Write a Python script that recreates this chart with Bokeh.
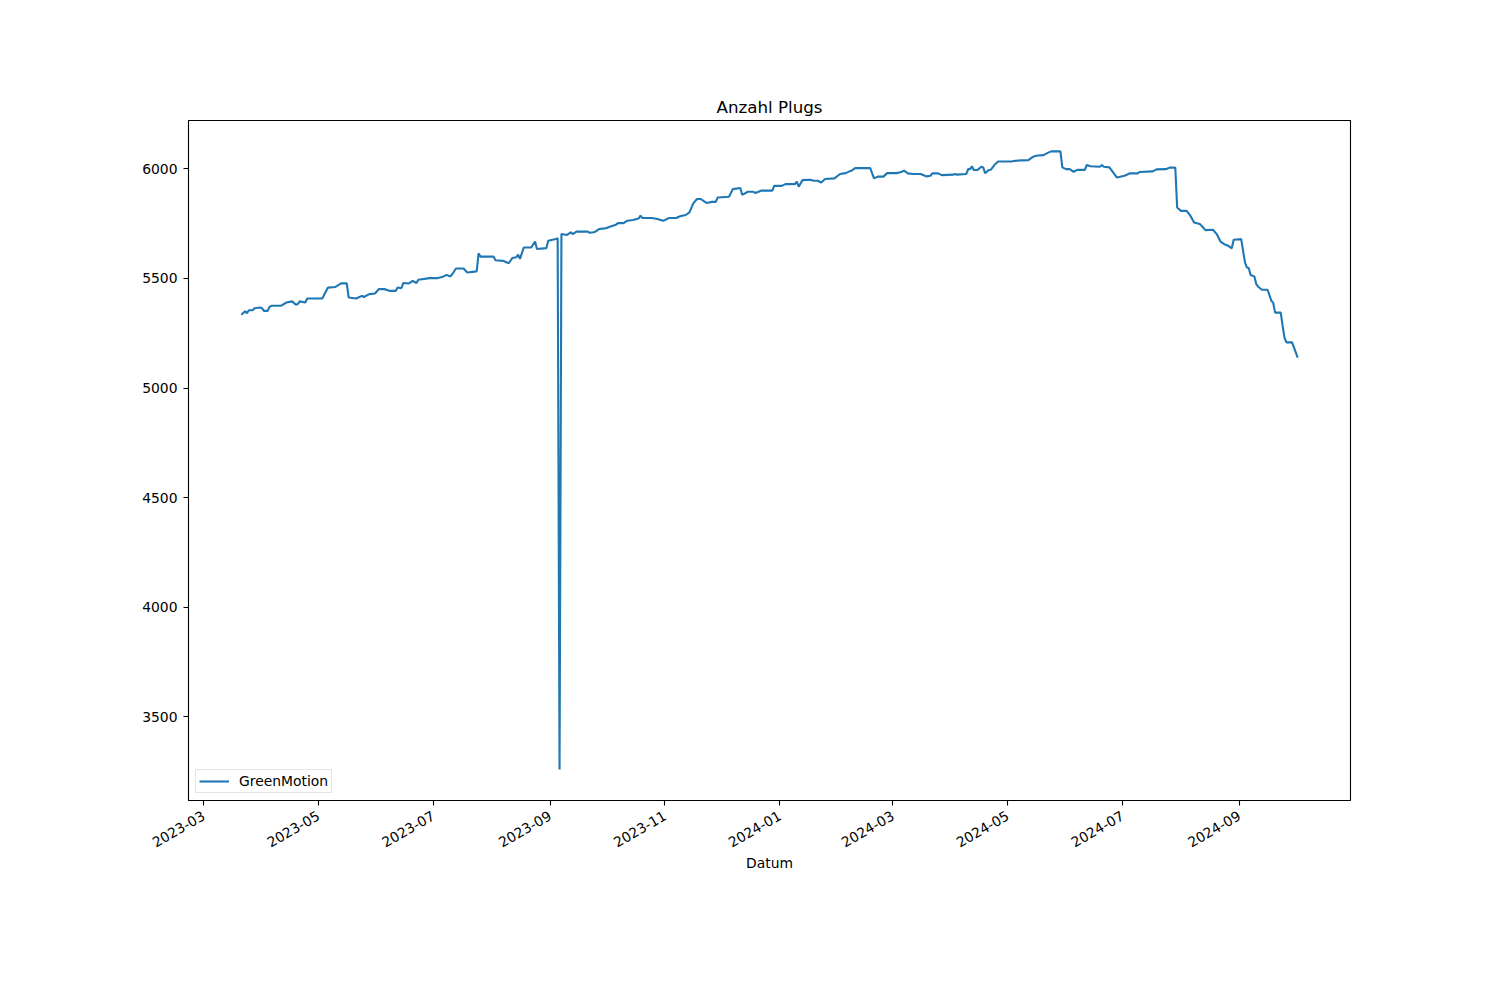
import math
import pandas as pd
from bokeh.plotting import figure
from bokeh.models import Range1d, FixedTicker, Legend, LegendItem, ColumnDataSource
from bokeh.embed import file_html
from bokeh.resources import INLINE

# ---- data ----
dates = [
    "2023-03-21", "2023-03-22", "2023-03-23", "2023-03-24", "2023-03-25", "2023-03-27", "2023-03-28",
    "2023-03-31", "2023-04-01", "2023-04-02", "2023-04-04", "2023-04-05", "2023-04-06", "2023-04-11",
    "2023-04-14", "2023-04-17", "2023-04-19", "2023-04-20", "2023-04-21", "2023-04-24", "2023-04-25",
    "2023-05-03", "2023-05-06", "2023-05-10", "2023-05-13", "2023-05-16", "2023-05-17", "2023-05-21",
    "2023-05-24", "2023-05-25", "2023-05-28", "2023-05-31", "2023-06-02", "2023-06-05", "2023-06-08",
    "2023-06-11", "2023-06-12", "2023-06-14", "2023-06-15", "2023-06-18", "2023-06-20", "2023-06-22",
    "2023-06-23", "2023-06-29", "2023-07-03", "2023-07-06", "2023-07-08", "2023-07-10", "2023-07-11",
    "2023-07-13", "2023-07-17", "2023-07-19", "2023-07-24", "2023-07-25", "2023-07-26", "2023-08-02",
    "2023-08-03", "2023-08-07", "2023-08-10", "2023-08-12", "2023-08-14", "2023-08-15", "2023-08-16",
    "2023-08-18", "2023-08-22", "2023-08-24", "2023-08-25", "2023-08-30", "2023-08-31", "2023-09-04",
    "2023-09-05", "2023-09-06", "2023-09-07", "2023-09-10", "2023-09-12", "2023-09-13", "2023-09-15",
    "2023-09-21", "2023-09-22", "2023-09-24", "2023-09-25", "2023-09-27", "2023-09-30", "2023-10-01",
    "2023-10-03", "2023-10-06", "2023-10-07", "2023-10-10", "2023-10-12", "2023-10-15", "2023-10-18",
    "2023-10-19", "2023-10-20", "2023-10-25", "2023-10-28", "2023-10-31", "2023-11-01", "2023-11-03",
    "2023-11-07", "2023-11-09", "2023-11-12", "2023-11-14", "2023-11-16", "2023-11-18", "2023-11-20",
    "2023-11-23", "2023-11-26", "2023-11-28", "2023-11-29", "2023-12-05", "2023-12-07", "2023-12-11",
    "2023-12-12", "2023-12-15", "2023-12-18", "2023-12-19", "2023-12-22", "2023-12-28", "2023-12-29",
    "2024-01-02", "2024-01-04", "2024-01-09", "2024-01-10", "2024-01-11", "2024-01-13", "2024-01-17",
    "2024-01-19", "2024-01-21", "2024-01-23", "2024-01-25", "2024-01-30", "2024-02-02", "2024-02-05",
    "2024-02-07", "2024-02-08", "2024-02-10", "2024-02-18", "2024-02-20", "2024-02-22", "2024-02-25",
    "2024-02-27", "2024-03-03", "2024-03-05", "2024-03-07", "2024-03-09", "2024-03-12", "2024-03-16",
    "2024-03-17", "2024-03-19", "2024-03-21", "2024-03-22", "2024-03-25", "2024-03-27", "2024-04-02",
    "2024-04-03", "2024-04-04", "2024-04-09", "2024-04-10", "2024-04-11", "2024-04-12", "2024-04-13",
    "2024-04-15", "2024-04-17", "2024-04-18", "2024-04-19", "2024-04-21", "2024-04-22", "2024-04-24",
    "2024-04-26", "2024-05-03", "2024-05-05", "2024-05-08", "2024-05-12", "2024-05-14", "2024-05-16",
    "2024-05-20", "2024-05-22", "2024-05-24", "2024-05-29", "2024-05-30", "2024-06-01", "2024-06-03",
    "2024-06-05", "2024-06-07", "2024-06-11", "2024-06-12", "2024-06-14", "2024-06-19", "2024-06-20",
    "2024-06-21", "2024-06-24", "2024-06-26", "2024-06-28", "2024-07-02", "2024-07-05", "2024-07-09",
    "2024-07-10", "2024-07-17", "2024-07-19", "2024-07-24", "2024-07-26", "2024-07-29", "2024-07-30",
    "2024-08-01", "2024-08-04", "2024-08-06", "2024-08-08", "2024-08-11", "2024-08-12", "2024-08-14",
    "2024-08-18", "2024-08-20", "2024-08-22", "2024-08-24", "2024-08-26", "2024-08-28", "2024-08-29",
    "2024-09-02", "2024-09-04", "2024-09-05", "2024-09-06", "2024-09-07", "2024-09-09", "2024-09-10",
    "2024-09-11", "2024-09-13", "2024-09-16", "2024-09-18", "2024-09-19", "2024-09-20", "2024-09-23",
    "2024-09-24", "2024-09-25", "2024-09-26", "2024-09-29", "2024-09-30", "2024-10-02",
]
plugs = [
    5334, 5342, 5350, 5341, 5355, 5355, 5364,
    5367, 5364, 5352, 5352, 5370, 5375, 5375,
    5390, 5395, 5380, 5383, 5395, 5390, 5408,
    5408, 5458, 5461, 5477, 5477, 5413, 5408,
    5420, 5415, 5428, 5431, 5451, 5451, 5443,
    5443, 5458, 5455, 5479, 5477, 5489, 5479,
    5494, 5501, 5501, 5507, 5516, 5509, 5519,
    5545, 5545, 5527, 5532, 5614, 5599, 5599,
    5583, 5580, 5569, 5593, 5596, 5608, 5589,
    5641, 5641, 5668, 5634, 5638, 5672, 5680,
    5683, 3260, 5702, 5698, 5710, 5702, 5713,
    5713, 5708, 5710, 5713, 5725, 5728, 5730,
    5737, 5745, 5752, 5752, 5763, 5766, 5773,
    5786, 5775, 5775, 5771, 5763, 5766, 5775,
    5775, 5783, 5789, 5801, 5842, 5862, 5862,
    5844, 5849, 5849, 5869, 5872, 5907, 5912,
    5881, 5895, 5895, 5889, 5900, 5900, 5922,
    5922, 5930, 5930, 5941, 5918, 5948, 5950,
    5945, 5945, 5937, 5953, 5956, 5976, 5980,
    5988, 5991, 6003, 6003, 5956, 5964, 5964,
    5980, 5980, 5984, 5991, 5979, 5976, 5976,
    5971, 5965, 5968, 5979, 5979, 5971, 5973,
    5976, 5973, 5976, 5998, 5998, 6011, 5994,
    5995, 6009, 6006, 5980, 5994, 5995, 6018,
    6033, 6033, 6036, 6038, 6039, 6052, 6059,
    6062, 6071, 6079, 6079, 6006, 5998, 5998,
    5986, 5995, 5995, 6017, 6011, 6009, 6017,
    6009, 6006, 5983, 5960, 5968, 5979, 5979,
    5985, 5988, 5997, 5998, 6005, 6005, 5823,
    5808, 5808, 5786, 5755, 5748, 5740, 5720,
    5722, 5702, 5668, 5656, 5649, 5637, 5676,
    5679, 5573, 5550, 5547, 5515, 5509, 5474,
    5462, 5448, 5448, 5398, 5389, 5344, 5344,
    5284, 5230, 5208, 5208, 5185, 5139,
]
x_tick_labels = ["2023-03", "2023-05", "2023-07", "2023-09", "2023-11",
                 "2024-01", "2024-03", "2024-05", "2024-07", "2024-09"]
y_ticks = [3500, 4000, 4500, 5000, 5500, 6000]
series_name = "GreenMotion"

# ---- figure ----
x = pd.to_datetime(dates)
src = ColumnDataSource(dict(x=x, y=plugs))

t0 = pd.Timestamp("2023-03-21")
t1 = pd.Timestamp("2024-10-02")
pad = (t1 - t0) * 0.05

ymin, ymax = min(plugs), max(plugs)
ypad = (ymax - ymin) * 0.05

p = figure(width=1484, height=984, x_axis_type="datetime",
           output_backend="svg", toolbar_location=None,
           x_range=Range1d(t0 - pad, t1 + pad),
           y_range=Range1d(ymin - ypad, ymax + ypad),
           min_border_left=188, min_border_right=134,
           min_border_top=120, min_border_bottom=184,
           title="Anzahl Plugs")

FONT = "DejaVu Sans"
p.title.align = "center"
p.title.text_font = FONT
p.title.text_font_size = "16.7px"
p.title.text_font_style = "normal"
p.title.text_color = "black"
p.title.standoff = 7

p.background_fill_color = "white"
p.border_fill_color = "white"
p.outline_line_color = "black"
p.outline_line_width = 1.1
p.xgrid.visible = False
p.ygrid.visible = False

r = p.line("x", "y", source=src, line_color="#1f77b4", line_width=2.1)

tick_ms = [pd.Timestamp(t + "-01").value / 1e6 for t in x_tick_labels]
p.xaxis.ticker = FixedTicker(ticks=tick_ms)
p.xaxis.major_label_overrides = {tm: lab for tm, lab in zip(tick_ms, x_tick_labels)}
p.xaxis.major_label_orientation = math.pi / 6
p.xaxis.axis_label = "Datum"
p.yaxis.ticker = FixedTicker(ticks=y_ticks)
p.yaxis.major_label_overrides = {v: str(v) for v in y_ticks}

for ax in (p.xaxis, p.yaxis):
    ax.axis_line_color = None
    ax.major_tick_line_color = "black"
    ax.major_tick_line_width = 1.1
    ax.major_tick_out = 5
    ax.major_tick_in = 0
    ax.minor_tick_line_color = None
    ax.major_label_text_font = FONT
    ax.major_label_text_font_size = "13.9px"
    ax.major_label_text_color = "black"
    ax.axis_label_text_font = FONT
    ax.axis_label_text_font_size = "13.9px"
    ax.axis_label_text_font_style = "normal"
    ax.axis_label_text_color = "black"

p.xaxis.major_label_standoff = 9
p.xaxis.axis_label_standoff = 0
p.yaxis.major_label_standoff = 6

legend = Legend(items=[LegendItem(label=series_name, renderers=[r])],
                location="bottom_left")
legend.label_text_font = FONT
legend.label_text_font_size = "13.9px"
legend.label_text_color = "black"
legend.border_line_color = "#cccccc"
legend.border_line_width = 1
legend.background_fill_alpha = 0.8
legend.margin = 7
legend.padding = 3
legend.spacing = 0
legend.glyph_width = 30
legend.glyph_height = 14
legend.label_standoff = 10
legend.label_height = 14
p.add_layout(legend)

open("out.html", "w").write(file_html(p, INLINE))
